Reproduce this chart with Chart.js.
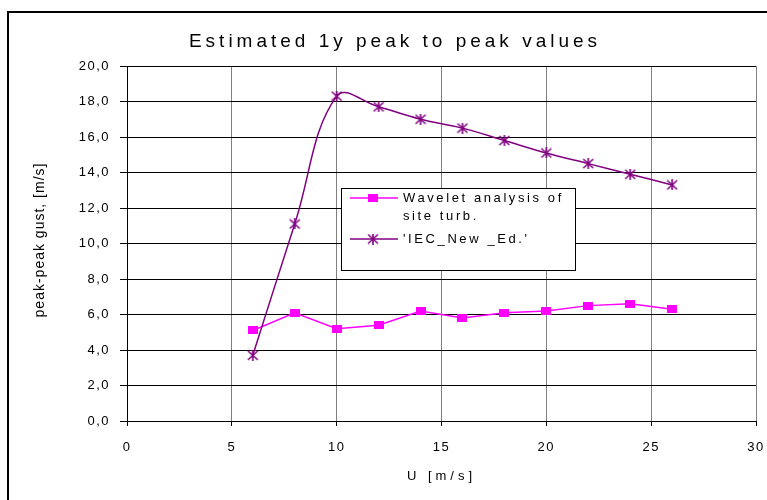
<!DOCTYPE html>
<html>
<head>
<meta charset="utf-8">
<script src="https://cdn.jsdelivr.net/npm/chart.js@4.4.0/dist/chart.umd.min.js"></script>
<style>
  html, body { margin: 0; padding: 0; background: #fff; }
</style>
</head>
<body>
<canvas id="chart" width="767" height="500"></canvas>
<script>
const windSpeed = [6, 8, 10, 12, 14, 16, 18, 20, 22, 24, 26];
const waveletPeak = [5.1, 6.1, 5.2, 5.4, 6.2, 5.8, 6.1, 6.2, 6.5, 6.6, 6.3];
const iecPeak = [3.7, 11.1, 18.3, 17.7, 17.0, 16.5, 15.8, 15.1, 14.5, 13.9, 13.3];
const waveletLabel = ['Wavelet analysis of', 'site turb.'];
const iecLabel = ["'IEC_New _Ed.'"];
const xTicks = [0, 5, 10, 15, 20, 25, 30];
const yTicks = [0, 2, 4, 6, 8, 10, 12, 14, 16, 18, 20];
const titleText = 'Estimated 1y peak to peak values';
const xTitle = 'U [m/s]';
const yTitle = 'peak-peak gust, [m/s]';

const FONT = '"Liberation Sans", Arial, sans-serif';
const MAGENTA = '#ff00ff';
const PURPLE = '#800080';

// marker images
function squareMarker() {
  const c = document.createElement('canvas');
  c.width = 10; c.height = 8;
  const g = c.getContext('2d');
  g.fillStyle = MAGENTA;
  g.fillRect(0, 0, 10, 8);
  return c;
}
function starMarker() {
  const c = document.createElement('canvas');
  c.width = 12; c.height = 11;
  const g = c.getContext('2d');
  g.strokeStyle = PURPLE;
  g.lineWidth = 1.6;
  g.beginPath();
  g.moveTo(1, 1); g.lineTo(11, 10);
  g.moveTo(11, 1); g.lineTo(1, 10);
  g.moveTo(6, 0); g.lineTo(6, 11);
  g.stroke();
  return c;
}
const sq = squareMarker();
const star = starMarker();

function pts(ys) {
  return windSpeed.map((x, i) => ({ x: x, y: ys[i] }));
}

const overlay = {
  id: 'overlay',
  beforeDraw(chart) {
    const ctx = chart.ctx;
    ctx.save();
    ctx.fillStyle = '#fff';
    ctx.fillRect(0, 0, chart.width, chart.height);
    ctx.strokeStyle = '#000';
    ctx.lineWidth = 2;
    ctx.strokeRect(8, 12, 900, 700);
    ctx.restore();
    ctx.letterSpacing = '1.5px';
  },
  afterDraw(chart) {
    const ctx = chart.ctx;
    const a = chart.chartArea;
    ctx.save();
    ctx.fillStyle = '#000';
    ctx.textBaseline = 'middle';

    // title
    ctx.letterSpacing = '4px';
    ctx.font = '19px ' + FONT;
    ctx.textAlign = 'center';
    ctx.fillText(titleText, 395, 42);

    // x title
    ctx.font = '13px ' + FONT;
    ctx.letterSpacing = '4px';
    ctx.fillText(xTitle, (a.left + a.right) / 2, 476);

    // y title
    ctx.font = '14px ' + FONT;
    ctx.letterSpacing = '1px';
    ctx.save();
    ctx.translate(40, 240);
    ctx.rotate(-Math.PI / 2);
    ctx.fillText(yTitle, 0, 0);
    ctx.restore();

    // legend box
    const bx = 341.5, by = 188.5, bw = 234, bh = 82;
    ctx.fillStyle = '#fff';
    ctx.fillRect(bx, by, bw, bh);
    ctx.strokeStyle = '#000';
    ctx.lineWidth = 1;
    ctx.strokeRect(bx, by, bw, bh);

    const items = [
      { lines: waveletLabel, color: MAGENTA, img: sq, y: 198 },
      { lines: iecLabel, color: PURPLE, img: star, y: 239 }
    ];
    ctx.font = '13px ' + FONT;
    ctx.letterSpacing = '2.6px';
    ctx.textAlign = 'left';
    items.forEach(it => {
      ctx.strokeStyle = it.color;
      ctx.lineWidth = 1.5;
      ctx.beginPath();
      ctx.moveTo(350, it.y);
      ctx.lineTo(398, it.y);
      ctx.stroke();
      ctx.drawImage(it.img, 373 - it.img.width / 2, it.y - it.img.height / 2);
      ctx.fillStyle = '#000';
      it.lines.forEach((t, k) => ctx.fillText(t, 403, it.y + k * 18));
    });
    ctx.restore();
  }
};

const chart = new Chart(document.getElementById('chart'), {
  type: 'line',
  data: {
    datasets: [
      {
        label: waveletLabel.join(' '),
        data: pts(waveletPeak),
        borderColor: MAGENTA,
        backgroundColor: MAGENTA,
        borderWidth: 1.5,
        pointStyle: sq,
        tension: 0,
        order: 1
      },
      {
        label: iecLabel[0],
        data: pts(iecPeak),
        borderColor: PURPLE,
        backgroundColor: PURPLE,
        borderWidth: 1.5,
        pointStyle: star,
        tension: 0.4,
        order: 0
      }
    ]
  },
  options: {
    responsive: false,
    animation: false,
    layout: { padding: { left: 8, top: 66, right: 11, bottom: 0 } },
    plugins: {
      legend: { display: false },
      tooltip: { enabled: false },
      title: { display: false }
    },
    scales: {
      x: {
        type: 'linear',
        min: 0,
        max: 30,
        afterBuildTicks: s => { s.ticks = xTicks.map(v => ({ value: v })); },
        afterFit: s => { s.height = 79; s.paddingLeft = 0; s.paddingRight = 0; },
        ticks: {
          color: '#000',
          font: { family: FONT, size: 13 },
          padding: 14,
          maxRotation: 0
        },
        grid: { color: '#808080', lineWidth: 1, tickLength: 5, tickColor: '#000' },
        border: { color: '#000', width: 1 }
      },
      y: {
        type: 'linear',
        min: 0,
        max: 20,
        afterBuildTicks: s => { s.ticks = yTicks.map(v => ({ value: v })); },
        afterFit: s => { s.width = 119; s.paddingTop = 0; s.paddingBottom = 0; },
        ticks: {
          color: '#000',
          font: { family: FONT, size: 13 },
          padding: 10,
          callback: v => v.toFixed(1).replace('.', ',')
        },
        grid: { color: '#000', lineWidth: 1, tickLength: 7, tickColor: '#000' },
        border: { color: '#000', width: 1 }
      }
    }
  },
  plugins: [overlay]
});
</script>
</body>
</html>
